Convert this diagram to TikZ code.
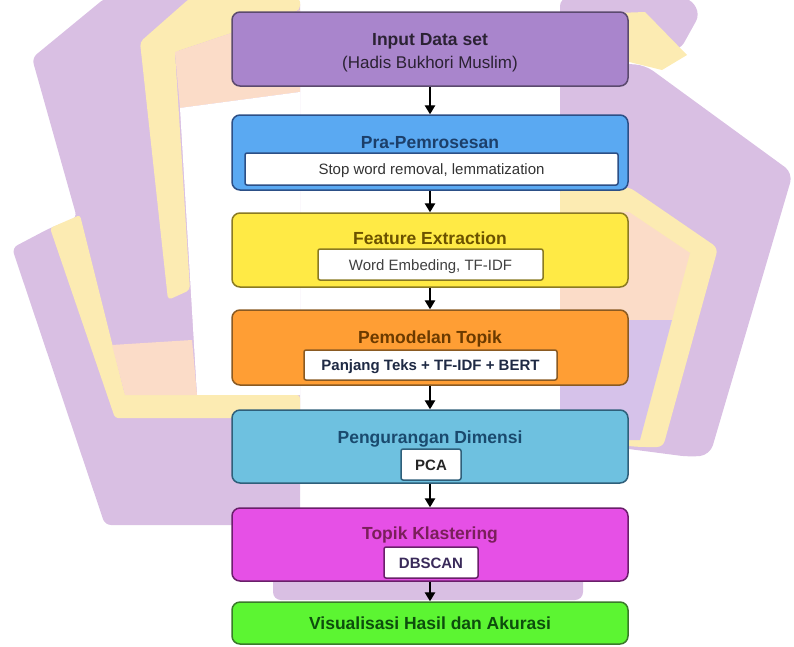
\documentclass[tikz,border=0pt]{standalone}
\usepackage{fontspec}
\setmainfont{Liberation Sans}
\usetikzlibrary{arrows.meta}
\definecolor{wlav}{HTML}{D9BFE3}
\definecolor{wlavb}{HTML}{D6C2EA}
\definecolor{wyel}{HTML}{FCEBB2}
\definecolor{wpea}{HTML}{FBDCC8}
\definecolor{fA}{HTML}{A985CC}\definecolor{dA}{HTML}{5B4A6E}\definecolor{tA}{HTML}{2B2233}
\definecolor{fB}{HTML}{5AA9F2}\definecolor{dB}{HTML}{2C4F86}\definecolor{tB}{HTML}{1C3F6A}
\definecolor{fC}{HTML}{FFEA45}\definecolor{dC}{HTML}{8A7A22}\definecolor{tC}{HTML}{6B5200}
\definecolor{fD}{HTML}{FF9E34}\definecolor{dD}{HTML}{8A5A22}\definecolor{tD}{HTML}{6B3A00}
\definecolor{fE}{HTML}{6EC1E0}\definecolor{dE}{HTML}{2F5F7A}\definecolor{tE}{HTML}{1A4A6E}
\definecolor{fF}{HTML}{E650E6}\definecolor{dF}{HTML}{6A1F6A}\definecolor{tF}{HTML}{7A1F5A}
\definecolor{fG}{HTML}{5CF532}\definecolor{dG}{HTML}{3A7A2A}\definecolor{tG}{HTML}{0D4D0D}
\tikzset{
  stage/.style={draw, line width=1.5pt, rounded corners=8pt, minimum width=396pt, inner sep=0pt},
  ttl/.style={anchor=base, font=\fontsize{17.5}{20}\selectfont\bfseries, inner sep=0pt},
  sub/.style={anchor=base, font=\fontsize{17}{20}\selectfont, inner sep=0pt},
  inbox/.style={draw, line width=1.5pt, fill=white, rounded corners=2pt, inner sep=0pt, text height=12pt, text depth=1pt},
  intxt/.style={font=\fontsize{15}{18}\selectfont},
  inbold/.style={font=\fontsize{15}{18}\selectfont\bfseries},
  arr/.style={line width=1.4pt, -{Triangle[width=10.5pt,length=9pt]}}
}
\begin{document}
\begin{tikzpicture}[x=1pt,y=-1pt]
\useasboundingbox (0,0) rectangle (794,646);
% ---- watermark (background) ----
\fill[wlav, rounded corners=6pt] (32,58) -- (105,-2) -- (300,-2) -- (300,525) -- (105,525) -- (12,248) -- (50,228) -- (77,218) -- cycle;
\fill[wyel, rounded corners=4pt] (140,42) -- (190,-2) -- (300,-2) -- (300,10) -- (175,52) -- (190,290) -- (168,300) -- cycle;
\fill[wpea] (175,52) -- (300,10) -- (300,92) -- (180,108) -- cycle;
\fill[white] (180,108) -- (300,92) -- (300,395) -- (197,395) -- cycle;
\fill[wyel, rounded corners=3pt] (50,228) -- (80,215) -- (125,395) -- (300,395) -- (300,418) -- (115,418) -- cycle;
\fill[wpea] (112,345) -- (192,340) -- (197,395) -- (125,395) -- cycle;
\fill[wlav, rounded corners=10pt] (560,60) -- (645,65) -- (793,173) -- (710,455) -- (690,457) -- (560,440) -- cycle;
\fill[wlav, rounded corners=8pt] (560,-2) -- (690,-2) -- (700,14) -- (680,50) -- (560,50) -- cycle;
\fill[wyel] (560,15) -- (645,12) -- (687,55) -- (662,70) -- (560,45) -- cycle;
\fill[wyel, rounded corners=6pt] (560,187) -- (629,187) -- (718,248) -- (663,447) -- (640,447) -- (560,440) -- cycle;
\fill[wpea] (560,212) -- (629,212) -- (690,253) -- (672,320) -- (560,320) -- cycle;
\fill[wlavb] (560,320) -- (672,320) -- (640,440) -- (560,440) -- cycle;
\fill[wlav, rounded corners=8pt] (273,540) rectangle (583,600);
% ---- stages ----
\node[stage, draw=dA, fill=fA, minimum height=74pt] (b1) at (430,49) {};
\node[stage, draw=dB, fill=fB, minimum height=75pt] (b2) at (430,152.5) {};
\node[stage, draw=dC, fill=fC, minimum height=74pt] (b3) at (430,250) {};
\node[stage, draw=dD, fill=fD, minimum height=75pt] (b4) at (430,347.5) {};
\node[stage, draw=dE, fill=fE, minimum height=73pt] (b5) at (430,446.5) {};
\node[stage, draw=dF, fill=fF, minimum height=73pt] (b6) at (430,544.5) {};
\node[stage, draw=dG, fill=fG, minimum height=42pt] (b7) at (430,623) {};
% titles
\node[ttl, text=tA] (t1) at (430,45) {Input Data set};
\node[sub, text=tA] (s1) at (430,68) {(Hadis Bukhori Muslim)};
\node[ttl, text=tB] (t2) at (430,148) {Pra-Pemrosesan};
\node[ttl, text=tC] (t3) at (430,244) {Feature Extraction};
\node[ttl, text=tD] (t4) at (430,343) {Pemodelan Topik};
\node[ttl, text=tE] (t5) at (430,443) {Pengurangan Dimensi};
\node[ttl, text=tF] (t6) at (430,539) {Topik Klastering};
\node[ttl, text=tG] (t7) at (430,629) {Visualisasi Hasil dan Akurasi};
% inner boxes
\node[inbox, draw=dB, minimum width=373pt, minimum height=32pt, intxt, text=black!80] (i2) at (431.5,169) {Stop word removal, lemmatization};
\node[inbox, draw=dC, minimum width=225pt, minimum height=31pt, intxt, text=black!75] (i3) at (430.5,264.5) {Word Embeding, TF-IDF};
\node[inbox, draw=dD, minimum width=253pt, minimum height=30pt, inbold, text={rgb,255:red,31;green,42;blue,68}] (i4) at (430.5,365) {Panjang Teks + TF-IDF + BERT};
\node[inbox, draw=dE, minimum width=60pt, minimum height=31pt, inbold, text=black!85] (i5) at (431,464.5) {PCA};
\node[inbox, draw=dF, minimum width=94pt, minimum height=31pt, inbold, text={rgb,255:red,58;green,42;blue,90}] (i6) at (431,562.5) {DBSCAN};
% arrows
\draw[arr] (b1) -- (b2);
\draw[arr] (b2) -- (b3);
\draw[arr] (b3) -- (b4);
\draw[arr] (b4) -- (b5);
\draw[arr] (b5) -- (b6);
\draw[arr] (b6) -- (b7);
\end{tikzpicture}
\end{document}
